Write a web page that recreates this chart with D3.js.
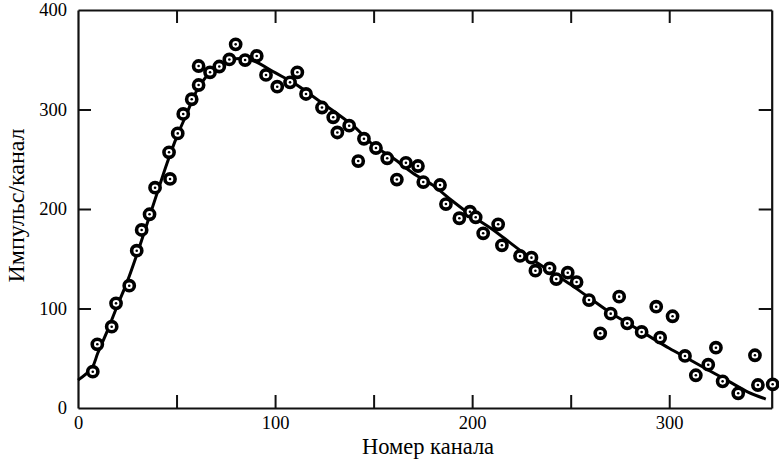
<!DOCTYPE html>
<html>
<head>
<meta charset="utf-8">
<script src="https://cdn.jsdelivr.net/npm/d3@7"></script>
<style>
  html, body { margin: 0; padding: 0; background: #fff; }
  svg { display: block; }
  svg text { font-family: "Liberation Serif", "Times New Roman", serif; fill: #000; }
</style>
</head>
<body>
<div id="chart"></div>
<script>
// Measured points: channel number and counts per channel
const channels = [7.5, 9.8, 17.1, 19.3, 26.0, 29.8, 32.3, 36.3, 39.1, 46.7, 46.2, 50.6, 53.4, 57.7, 61.2, 61.2, 67.0, 71.7, 76.8, 80.0,
  84.8, 90.7, 95.4, 101.1, 107.6, 111.3, 115.7, 123.8, 129.5, 131.6, 137.6, 142.2, 145.1, 151.2, 156.9, 161.8, 166.4, 172.5, 175.2, 183.7,
  186.7, 193.5, 198.9, 201.8, 205.6, 213.2, 215.1, 224.3, 230.1, 232.1, 239.3, 242.7, 248.5, 253.0, 259.3, 265.0, 270.3, 274.6, 278.7, 286.0,
  293.4, 295.4, 301.7, 308.0, 313.5, 319.8, 323.7, 327.1, 335.0, 343.5, 345.0, 352.5];
const counts = [36.5, 64, 81.7, 105.2, 122.9, 158.1, 178.9, 194.7, 221.4, 230.2, 257, 276, 295.5, 310.3, 324.6, 343.7, 337.4, 343.2, 350.3, 365.5,
  349.7, 353.8, 334.7, 322.9, 327.3, 337.4, 315.6, 302, 292.2, 276.9, 283.7, 248.2, 270.6, 261.3, 251, 229.6, 246.4, 243.2, 227.1, 224.1,
  205, 190.7, 197.3, 191.7, 175.6, 184.6, 163.5, 152.8, 151.1, 138, 140.4, 129.6, 136, 126.6, 108.5, 75.1, 94.8, 111.9, 85.1, 76.4,
  101.8, 70.7, 92.2, 52.3, 32.9, 43.5, 60.6, 26.8, 14.8, 53, 23.1, 23.8];

// Fitted curve
const fitChannels = [0, 7, 10, 15, 20, 25, 30, 35, 40, 45, 50, 55, 60, 65, 70, 75, 80, 85, 90, 100,
  110, 120, 130, 140, 150, 160, 170, 180, 190, 200, 210, 220, 230, 240, 250, 260, 270, 280, 290, 300,
  310, 320, 330, 340, 349];
const fitCounts = [28, 40, 55, 78, 103, 127, 155, 185, 215, 245, 272, 295, 318, 333, 342, 348, 351, 351, 348, 337,
  326, 312, 298, 283, 264, 251, 236, 224, 208, 193, 180, 165, 150, 137, 124, 110, 96, 84, 72, 60,
  49, 38, 27, 16, 9];

const xTicks = [0, 50, 100, 150, 200, 250, 300];
const xTickLabels = ["0", "", "100", "", "200", "", "300"];
const yTicks = [0, 100, 200, 300, 400];
const yTickLabels = ["0", "100", "200", "300", "400"];
const xTitle = "Номер канала";
const yTitle = "Импульс/канал";

const W = 779, H = 462;
const margin = { top: 10, right: 7.3, bottom: 54, left: 78 };
const iw = W - margin.left - margin.right;
const ih = H - margin.top - margin.bottom;
const FONT = "'Liberation Serif', 'Times New Roman', serif";

const svg = d3.select("#chart").append("svg").attr("width", W).attr("height", H);
const g = svg.append("g").attr("transform", `translate(${margin.left},${margin.top})`);

const x = d3.scaleLinear().domain([0, 352]).range([0, iw]);
const y = d3.scaleLinear().domain([0, 400]).range([ih, 0]);

const tickLen = 13;
const styleAxis = sel => {
  sel.attr("font-family", FONT);
  sel.select(".domain").attr("stroke", "#111").attr("stroke-width", 2.2);
  sel.selectAll(".tick line").attr("stroke", "#111").attr("stroke-width", 2);
};

// bottom axis (ticks inward)
const xAxis = g.append("g").attr("transform", `translate(0,${ih})`)
  .call(d3.axisBottom(x).tickValues(xTicks).tickSizeInner(-tickLen).tickSizeOuter(0)
    .tickFormat((d, i) => xTickLabels[i]));
styleAxis(xAxis);
xAxis.selectAll(".tick text").attr("y", 7.5).attr("dy", "0.71em").attr("font-size", 18.5)
  .attr("fill", "#000");

// top axis (mirrored ticks)
const xTop = g.append("g")
  .call(d3.axisTop(x).tickValues(xTicks).tickSizeInner(-tickLen).tickSizeOuter(0).tickFormat(""));
styleAxis(xTop);

// left axis
const yAxis = g.append("g")
  .call(d3.axisLeft(y).tickValues(yTicks).tickSizeInner(-tickLen).tickSizeOuter(0)
    .tickFormat((d, i) => yTickLabels[i]));
styleAxis(yAxis);
yAxis.selectAll(".tick text").attr("x", -11).attr("font-size", 18.5)
  .attr("fill", "#000");

// right axis
const yRight = g.append("g").attr("transform", `translate(${iw},0)`)
  .call(d3.axisRight(y).tickValues(yTicks).tickSizeInner(-tickLen).tickSizeOuter(0).tickFormat(""));
styleAxis(yRight);

// Remove ticks on border corners
[xAxis, xTop].forEach(a => a.selectAll(".tick").filter(d => d === 0).select("line").remove());
[yAxis, yRight].forEach(a => a.selectAll(".tick").filter(d => d === 0 || d === 400).select("line").remove());

// fit curve
const fitData = fitChannels.map((c, i) => [c, fitCounts[i]]);
g.append("path")
  .datum(fitData)
  .attr("fill", "none")
  .attr("stroke", "#000")
  .attr("stroke-width", 3)
  .attr("stroke-linejoin", "round")
  .attr("d", d3.line().x(d => x(d[0])).y(d => y(d[1])).curve(d3.curveCatmullRom.alpha(0.5)));

// markers
const pts = channels.map((c, i) => [c, counts[i]]);
const mk = g.append("g").selectAll("g").data(pts).join("g")
  .attr("transform", d => `translate(${x(d[0])},${y(d[1])})`);
mk.append("circle").attr("r", 5.1).attr("fill", "#fff").attr("stroke", "#000").attr("stroke-width", 3.6);
mk.append("circle").attr("r", 1.3).attr("fill", "#000");

// axis titles
svg.append("text")
  .attr("x", 428).attr("y", 454)
  .attr("text-anchor", "middle").attr("font-size", 22.5).attr("font-family", FONT)
  .text(xTitle);
svg.append("text")
  .attr("transform", `translate(24,205.5) rotate(-90)`)
  .attr("text-anchor", "middle").attr("font-size", 24).attr("font-family", FONT)
  .text(yTitle);
</script>
</body>
</html>
